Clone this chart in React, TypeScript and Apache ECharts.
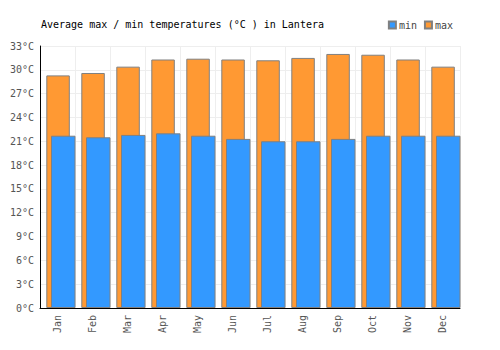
import React, { useEffect, useRef } from "react";
import * as echarts from "echarts";

const months = ["Jan", "Feb", "Mar", "Apr", "May", "Jun", "Jul", "Aug", "Sep", "Oct", "Nov", "Dec"];
const maxTemps = [29.3, 29.6, 30.4, 31.3, 31.4, 31.3, 31.2, 31.5, 32.0, 31.9, 31.3, 30.4];
const minTemps = [21.7, 21.5, 21.8, 22.0, 21.7, 21.3, 21.0, 21.0, 21.3, 21.7, 21.7, 21.7];
const titleText = "Average max / min temperatures (°C ) in Lantera";

const FONT = "'DejaVu Sans Mono', monospace";

export default function App() {
  const ref = useRef<HTMLDivElement>(null);
  useEffect(() => {
    document.body.style.margin = "0";
    if (!ref.current) return;
    const chart = echarts.init(ref.current, null, { renderer: "svg" });
    chart.setOption({
      animation: false,
      backgroundColor: "#fff",
      title: {
        text: titleText,
        left: 36,
        top: 14,
        textStyle: { fontFamily: FONT, fontSize: 10, fontWeight: "normal", color: "#000" },
      },
      legend: {
        data: ["min", "max"],
        right: 42,
        top: 15,
        icon: "rect",
        itemWidth: 7,
        itemHeight: 7,
        itemGap: 7,
        textStyle: { fontFamily: FONT, fontSize: 10, color: "#444", padding: [0, 0, 0, -2] },
      },
      grid: { left: 40, right: 40, top: 46, bottom: 42, containLabel: false, outerBoundsMode: "none" },
      xAxis: {
        type: "category",
        data: months,
        axisLine: { show: true, lineStyle: { color: "#000", width: 1 } },
        axisTick: { show: false },
        axisLabel: { rotate: 90, margin: 7, fontFamily: FONT, fontSize: 10, color: "#555" },
        splitLine: { show: true, lineStyle: { color: "#eee", width: 1 } },
      },
      yAxis: {
        type: "value",
        min: 0,
        max: 33,
        interval: 3,
        axisLine: { show: true, lineStyle: { color: "#000", width: 1 } },
        axisTick: { show: false },
        axisLabel: { formatter: "{value}°C", margin: 6, fontFamily: FONT, fontSize: 10, color: "#555" },
        splitLine: { show: true, lineStyle: { color: "#eee", width: 1 } },
      },
      series: [
        { name: "_pad", type: "bar", data: [], barWidth: 34, barGap: "-80%", silent: true },
        {
          name: "max",
          type: "bar",
          data: maxTemps,
          barWidth: 23.5,
          barGap: "-80%",
          itemStyle: { color: "#ff9933", borderColor: "#808080", borderWidth: 1 },
        },
        {
          name: "min",
          type: "bar",
          data: minTemps,
          barWidth: 24.5,
          barGap: "-80%",
          itemStyle: { color: "#3399ff", borderColor: "#808080", borderWidth: 1 },
        },
      ],
    });
    return () => chart.dispose();
  }, []);
  return <div ref={ref} style={{ width: 500, height: 350 }} />;
}
